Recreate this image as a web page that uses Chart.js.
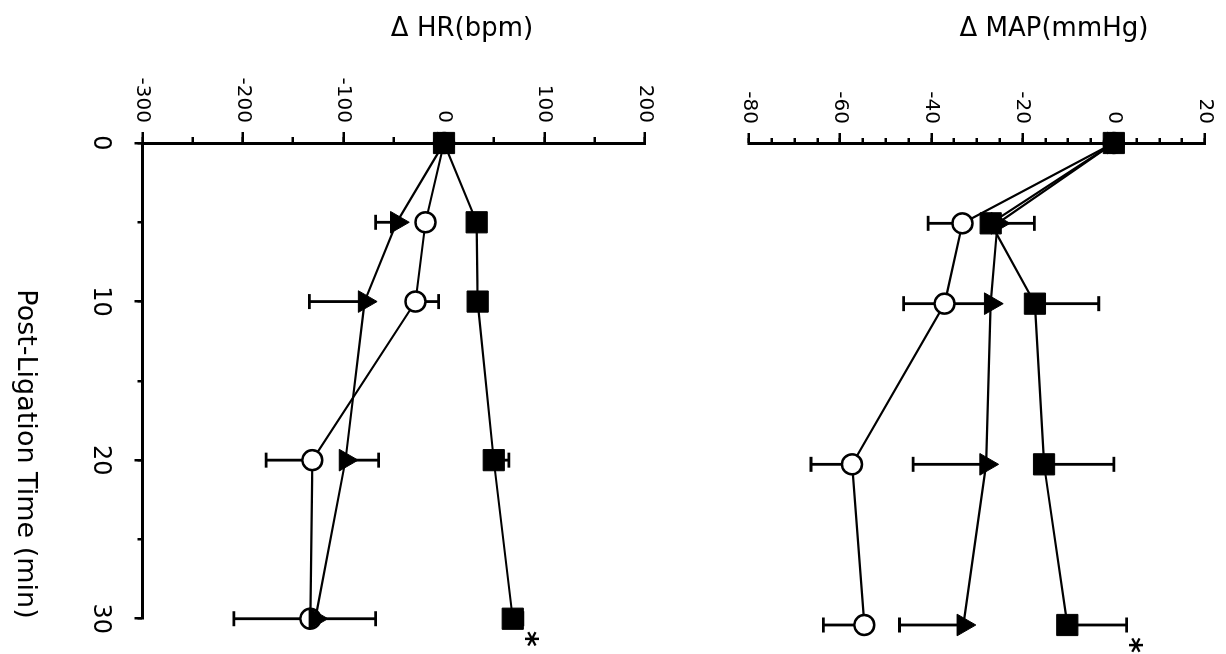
<!DOCTYPE html>
<html><head><meta charset="utf-8">
<script src="https://cdn.jsdelivr.net/npm/chart.js@4.4.1/dist/chart.umd.min.js"></script>
<style>
html,body{margin:0;padding:0;background:#fff;overflow:hidden;width:1226px;height:654px;}
#rot{position:absolute;left:0;top:0;width:654px;height:1226px;transform-origin:0 0;transform:translateX(1226px) rotate(90deg);background:#fff;}
#rot canvas{position:absolute;left:0;}
</style></head><body>
<div id="rot">
<canvas id="map" width="654" height="520" style="top:0;width:654px;height:520px"></canvas>
<canvas id="hr" width="654" height="706" style="top:520px;width:654px;height:706px"></canvas>
</div>
<script>
// ---- data ----
const times = [0, 5, 10, 20, 30];
const timeMin = 0, timeMax = 30, timeStep = 10, timeMinorStep = 5;

// Δ MAP (mmHg)
const mapMin = -80, mapMax = 20, mapStep = 20, mapMinorStep = 5;
const mapSquare = [0, -27, -17.3, -15.3, -10.2];
const mapSquareErr = [0, 9.6, 14, 15.3, 13];
const mapSquareSig = [false, false, false, false, true];
const mapTriangle = [0, -25.5, -27, -28, -33];
const mapTriangleErr = [0, 0, -10, -16, -14];
const mapCircle = [0, -33.2, -37.1, -57.4, -54.7];
const mapCircleErr = [0, -7.5, -9, -9, -9];

// Δ HR (bpm)
const hrMin = -300, hrMax = 200, hrStep = 100, hrMinorStep = 50;
const hrSquare = [0, 32.5, 33.5, 49.5, 68.4];
const hrSquareErr = [0, 5, 5, 15, 10];
const hrSquareSig = [false, false, false, false, true];
const hrTriangle = [0, -47, -79, -98, -128];
const hrTriangleErr = [0, -21, -55, 33, 60];
const hrCircle = [0, -18.4, -28.3, -131, -133];
const hrCircleErr = [0, 0, 23, -46, -76];

const FONT = 'DejaVu Sans';
Chart.defaults.font.family = FONT;
Chart.defaults.color = '#000';

function pts(vals) { return times.map((t, i) => ({ x: t, y: vals[i] })); }
function squareDs(vals, err, sig) {
  return { data: pts(vals), errors: err, sig: sig, showLine: true, borderColor: '#000', borderWidth: 2.2,
    pointStyle: 'rect', pointRadius: 15, pointBackgroundColor: '#000', pointBorderColor: '#000', pointBorderWidth: 1, clip: false,
    xAxisID: 'x', yAxisID: 'y' };
}
function triDs(vals, err) {
  return { data: pts(vals), errors: err, showLine: true, borderColor: '#000', borderWidth: 2.2,
    pointStyle: 'triangle', pointRadius: 12.5, pointBackgroundColor: '#000', pointBorderColor: '#000', pointBorderWidth: 1, clip: false,
    xAxisID: 'x', yAxisID: 'y' };
}
function circDs(vals, err) {
  return { data: pts(vals), errors: err, showLine: true, borderColor: '#000', borderWidth: 2.2,
    pointStyle: 'circle', pointRadius: 10, pointBackgroundColor: '#fff', pointBorderColor: '#000', pointBorderWidth: 2.5, clip: false,
    xAxisID: 'x', yAxisID: 'y' };
}

const errorBars = {
  id: 'errorBars',
  beforeDatasetsDraw(chart) {
    const ctx = chart.ctx, xs = chart.scales.x, ys = chart.scales.y;
    ctx.save(); ctx.strokeStyle = '#000'; ctx.lineWidth = 2.8;
    chart.data.datasets.forEach(d => {
      if (!d.errors) return;
      d.data.forEach((p, i) => {
        const e = d.errors[i]; if (!e) return;
        const px = xs.getPixelForValue(p.x), y0 = ys.getPixelForValue(p.y), y1 = ys.getPixelForValue(p.y + e);
        ctx.beginPath(); ctx.moveTo(px, y0); ctx.lineTo(px, y1);
        ctx.moveTo(px - 7.5, y1); ctx.lineTo(px + 7.5, y1); ctx.stroke();
      });
    });
    ctx.restore();
  },
  afterDatasetsDraw(chart) {
    const ctx = chart.ctx, xs = chart.scales.x, ys = chart.scales.y;
    ctx.save(); ctx.fillStyle = '#000'; ctx.font = 'bold 30px ' + FONT; ctx.textAlign = 'center'; ctx.textBaseline = 'alphabetic';
    const m = ctx.measureText('*');
    const shift = (m.actualBoundingBoxAscent - m.actualBoundingBoxDescent) / 2;
    chart.data.datasets.forEach(d => {
      if (!d.sig) return;
      d.data.forEach((p, i) => {
        if (!d.sig[i]) return;
        const e = d.errors ? d.errors[i] : 0;
        const px = xs.getPixelForValue(p.x) + 20, py = ys.getPixelForValue(p.y + Math.max(e, 0)) - 9;
        ctx.fillText('*', px, py + shift);
      });
    });
    ctx.restore();
  }
};

const axisTitle = {
  id: 'axisTitle',
  afterDraw(chart, args, o) {
    if (!o || !o.text) return;
    const ctx = chart.ctx; ctx.save(); ctx.translate(o.x, o.y); ctx.rotate(-Math.PI / 2);
    ctx.font = o.size + 'px ' + FONT; ctx.fillStyle = '#000'; ctx.textAlign = 'center'; ctx.textBaseline = 'middle';
    ctx.fillText(o.text, 0, 0); ctx.restore();
  }
};

function valueScales(min, max, step, minorStep, tickLen, minorLen) {
  return {
    y: { type: 'linear', position: 'left', min: min, max: max, weight: 1,
      afterFit(s) { s.width = 143; },
      ticks: { stepSize: step, maxTicksLimit: 100, autoSkip: false, font: { size: 20 }, color: '#000', padding: 9 },
      grid: { drawOnChartArea: false, drawTicks: true, tickLength: tickLen, color: '#000', lineWidth: 2.5 },
      border: { display: true, color: '#000', width: 3 } },
    yMinor: { type: 'linear', axis: 'y', position: 'left', min: min, max: max, weight: 0,
      afterFit(s) { s.width = 0; },
      ticks: { stepSize: minorStep, maxTicksLimit: 100, autoSkip: false, display: false },
      grid: { drawOnChartArea: false, drawTicks: true, tickLength: minorLen, color: '#000', lineWidth: 2.5 },
      border: { display: false } }
  };
}

const common = {
  responsive: false, maintainAspectRatio: false, animation: false, devicePixelRatio: 1, events: [],
};

// MAP panel
new Chart(document.getElementById('map'), {
  type: 'scatter',
  data: { datasets: [squareDs(mapSquare, mapSquareErr, mapSquareSig), triDs(mapTriangle, mapTriangleErr), circDs(mapCircle, mapCircleErr)] },
  options: Object.assign({}, common, {
    layout: { padding: { top: 20, right: 29, bottom: 43, left: 0 } },
    scales: Object.assign({
      x: { type: 'linear', min: timeMin, max: timeMax, display: false }
    }, valueScales(mapMin, mapMax, mapStep, mapMinorStep, 10, 5)),
    plugins: { legend: { display: false }, tooltip: { enabled: false },
      axisTitle: { text: 'Δ MAP(mmHg)', x: 29, y: 172, size: 26 } }
  }),
  plugins: [errorBars, axisTitle]
});

// HR panel
new Chart(document.getElementById('hr'), {
  type: 'scatter',
  data: { datasets: [squareDs(hrSquare, hrSquareErr, hrSquareSig), triDs(hrTriangle, hrTriangleErr), circDs(hrCircle, hrCircleErr)] },
  options: Object.assign({}, common, {
    layout: { padding: { top: 61, right: 29, bottom: 0, left: 0 } },
    scales: Object.assign({
      x: { type: 'linear', position: 'bottom', min: timeMin, max: timeMax, weight: 1,
        afterFit(s) { s.height = 142.5; },
        ticks: { stepSize: timeStep, maxTicksLimit: 100, autoSkip: false, maxRotation: 0, font: { size: 24 }, color: '#000', padding: 20 },
        grid: { drawOnChartArea: false, drawTicks: true, tickLength: 8, color: '#000', lineWidth: 2.5 },
        border: { display: true, color: '#000', width: 3 },
        title: { display: true, text: 'Post-Ligation Time (min)', align: 'end', color: '#000', font: { size: 27 }, padding: { top: 0, bottom: 9 } } },
      xMinor: { type: 'linear', axis: 'x', position: 'bottom', min: timeMin, max: timeMax, weight: 0,
        afterFit(s) { s.height = 0; },
        ticks: { stepSize: timeMinorStep, maxTicksLimit: 100, autoSkip: false, display: false },
        grid: { drawOnChartArea: false, drawTicks: true, tickLength: 5, color: '#000', lineWidth: 2.5 },
        border: { display: false } }
    }, valueScales(hrMin, hrMax, hrStep, hrMinorStep, 11, 6)),
    plugins: { legend: { display: false }, tooltip: { enabled: false },
      axisTitle: { text: 'Δ HR(bpm)', x: 29, y: 244, size: 26 } }
  }),
  plugins: [errorBars, axisTitle]
});
</script>
</body></html>
